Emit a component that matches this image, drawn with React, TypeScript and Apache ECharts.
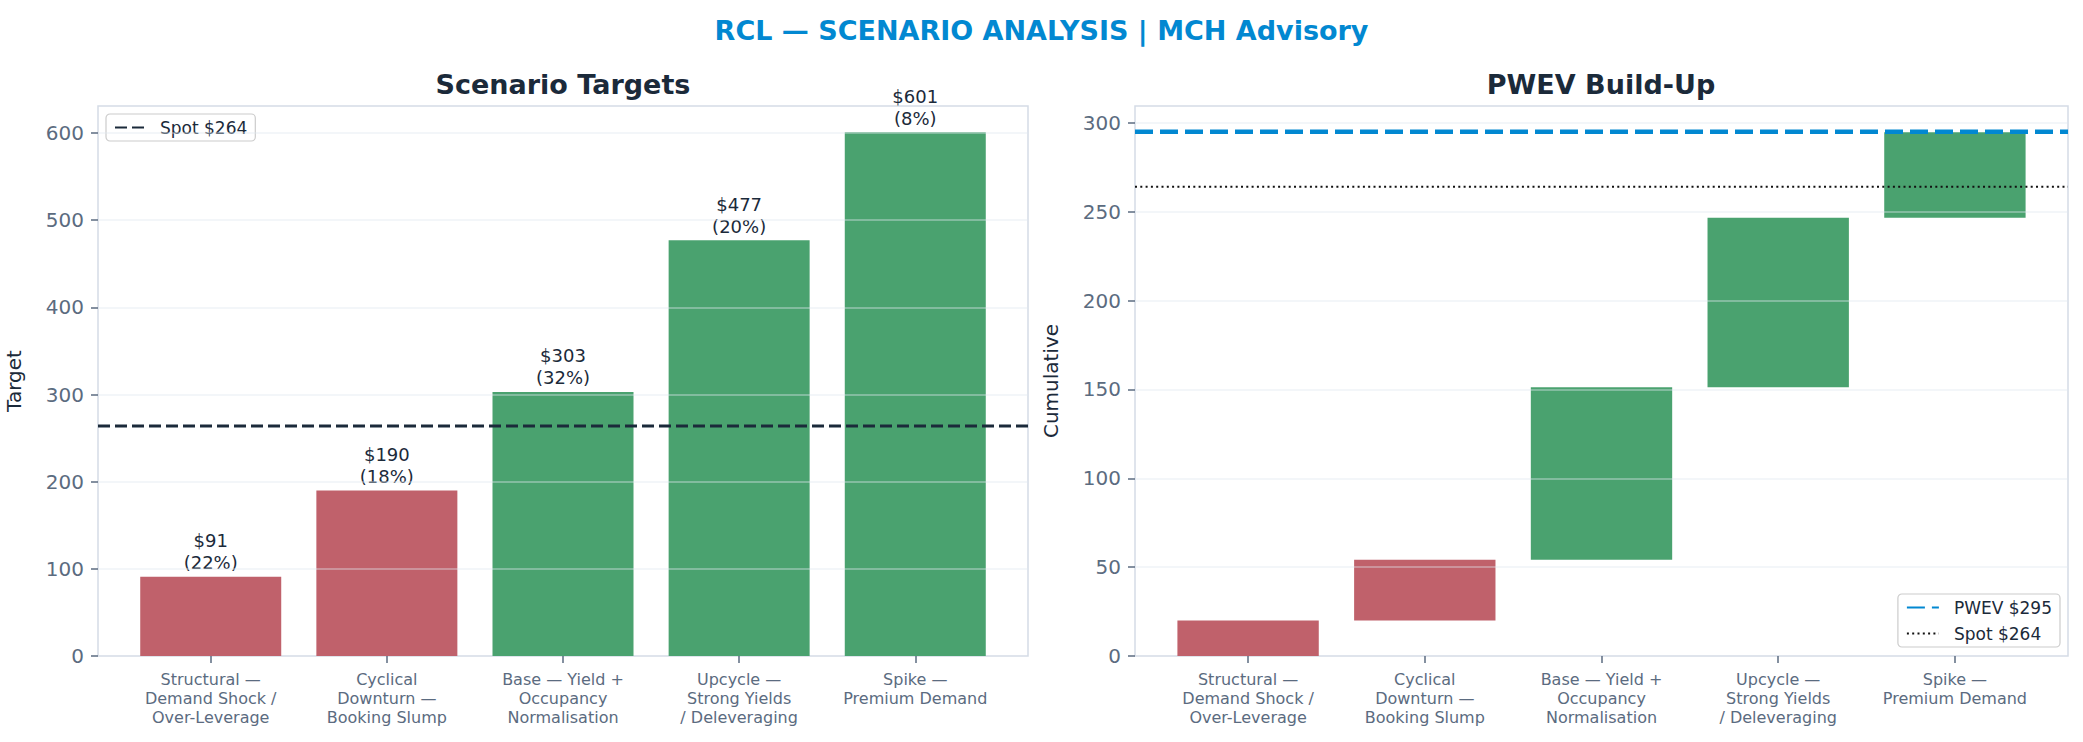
import React, { useEffect, useRef } from 'react';
import * as echarts from 'echarts';

const categories = [
  'Structural —\nDemand Shock /\nOver-Leverage',
  'Cyclical\nDownturn —\nBooking Slump',
  'Base — Yield +\nOccupancy\nNormalisation',
  'Upcycle —\nStrong Yields\n/ Deleveraging',
  'Spike —\nPremium Demand',
];
const targets = [91, 190, 303, 477, 601];
const probabilities = [22, 18, 32, 20, 8];
const spot = 264;
const pwev = 295;
const leftTicks = [0, 100, 200, 300, 400, 500, 600];
const rightTicks = [0, 50, 100, 150, 200, 250, 300];
const xPositions = [0, 1, 2, 3, 4];

const RED = '#c0616b';
const GREEN = '#4aa26f';
const BLUE = '#0288d1';
const DARK = '#1b2a3a';
const MUTED = '#5b6b80';
const FONT = 'DejaVu Sans';

// waterfall pieces: each scenario adds target × probability
const contributions = targets.map((t, i) => (t * probabilities[i]) / 100);
const starts = contributions.map((_, i) =>
  contributions.slice(0, i).reduce((a, b) => a + b, 0)
);

const X_MIN = -0.64;
const X_MAX = 4.64;
const BAR_HALF = 0.4;

export default function App() {
  const chartRef = useRef<HTMLDivElement>(null);

  useEffect(() => {
    if (!chartRef.current) return;
    const chart = echarts.init(chartRef.current, undefined, { renderer: 'svg' });

    const colorOf = (i: number) => (targets[i] < spot ? RED : GREEN);

    const tickStyle = { color: MUTED, width: 1.5 };

    const xAxisBase = (gridIndex: number) => ({
      type: 'value',
      gridIndex,
      min: X_MIN,
      max: X_MAX,
      axisLine: { show: false, onZero: false },
      splitLine: { show: false },
      axisTick: { show: true, customValues: xPositions, length: 7, lineStyle: tickStyle },
      axisLabel: {
        customValues: xPositions,
        formatter: (v: number) => categories[Math.round(v)] ?? '',
        color: MUTED,
        fontSize: 16,
        lineHeight: 19,
        margin: 14,
        fontFamily: FONT,
      },
    });

    const yAxisBase = (gridIndex: number, max: number, ticks: number[], name: string) => ({
      type: 'value',
      gridIndex,
      min: 0,
      max,
      name,
      nameLocation: 'middle',
      nameGap: 74,
      nameTextStyle: { fontSize: 20, color: DARK, fontFamily: FONT },
      axisLine: { show: false, onZero: false },
      splitLine: { show: false },
      axisTick: { show: true, customValues: ticks, length: 7, lineStyle: tickStyle },
      axisLabel: {
        customValues: ticks,
        color: MUTED,
        fontSize: 20,
        margin: 14,
        fontFamily: FONT,
      },
    });

    // gridlines drawn over the bars, as in the reference
    const gridOverlay = (ticks: number[]) => ({
      silent: true,
      symbol: ['none', 'none'],
      label: { show: false },
      lineStyle: { color: 'rgba(226,232,240,0.5)', width: 1.5, type: 'solid' },
      data: ticks.filter((v) => v > 0).map((v) => ({ yAxis: v })),
    });

    const legendBox = {
      itemWidth: 30,
      itemHeight: 14,
      padding: [5, 8],
      borderColor: '#cccccc',
      borderWidth: 1.2,
      borderRadius: 4,
      itemStyle: { opacity: 0 },
      textStyle: { fontSize: 17, color: DARK, fontFamily: FONT, padding: [0, 0, 0, 10] },
    };

    const option = {
      animation: false,
      backgroundColor: '#ffffff',
      textStyle: { fontFamily: FONT },
      title: {
        text: 'RCL — SCENARIO ANALYSIS | MCH Advisory',
        left: 'center',
        top: 12,
        textStyle: { fontSize: 27, fontWeight: 'bold', color: BLUE, fontFamily: FONT },
      },
      graphic: [
        {
          type: 'text',
          x: 563,
          y: 84,
          style: {
            text: 'Scenario Targets',
            textAlign: 'center',
            textVerticalAlign: 'middle',
            font: `bold 27px "${FONT}"`,
            fill: DARK,
          },
        },
        {
          type: 'text',
          x: 1601,
          y: 84,
          style: {
            text: 'PWEV Build-Up',
            textAlign: 'center',
            textVerticalAlign: 'middle',
            font: `bold 27px "${FONT}"`,
            fill: DARK,
          },
        },
      ],
      legend: [
        {
          ...legendBox,
          data: ['Spot $264'],
          left: 106,
          top: 114,
        },
        {
          ...legendBox,
          data: ['PWEV $295', 'Spot $264 '],
          orient: 'vertical',
          right: 23,
          bottom: 95,
          itemWidth: 32,
          itemGap: 9,
        },
      ],
      grid: [
        {
          left: 98,
          right: 1055,
          top: 106,
          bottom: 86,
          show: true,
          borderColor: '#d5dce6',
          borderWidth: 1.5,
          backgroundColor: 'transparent',
        },
        {
          left: 1135,
          right: 15,
          top: 106,
          bottom: 86,
          show: true,
          borderColor: '#d5dce6',
          borderWidth: 1.5,
          backgroundColor: 'transparent',
        },
      ],
      xAxis: [xAxisBase(0), xAxisBase(1)],
      yAxis: [
        yAxisBase(0, 631, leftTicks, 'Target'),
        yAxisBase(1, 309.5, rightTicks, 'Cumulative'),
      ],
      series: [
        {
          name: 'targets',
          type: 'bar',
          xAxisIndex: 0,
          yAxisIndex: 0,
          barWidth: 141,
          z: 2,
          data: targets.map((v, i) => ({
            value: [xPositions[i], v],
            itemStyle: { color: colorOf(i) },
          })),
          label: {
            show: true,
            position: 'top',
            distance: 3,
            color: DARK,
            fontSize: 18,
            lineHeight: 22,
            fontFamily: FONT,
            formatter: (p: any) => `$${targets[p.dataIndex]}\n(${probabilities[p.dataIndex]}%)`,
          },
          markLine: gridOverlay(leftTicks),
        },
        {
          name: 'Spot $264',
          type: 'line',
          xAxisIndex: 0,
          yAxisIndex: 0,
          symbol: 'none',
          z: 5,
          lineStyle: { color: DARK, width: 3, type: [12, 5] },
          itemStyle: { color: DARK },
          data: [
            [X_MIN, spot],
            [X_MAX, spot],
          ],
        },
        {
          name: 'contrib',
          type: 'custom',
          xAxisIndex: 1,
          yAxisIndex: 1,
          z: 2,
          encode: { x: 0, y: [1, 2] },
          data: contributions.map((c, i) => [xPositions[i], starts[i], starts[i] + c]),
          renderItem: (params: any, api: any) => {
            const x = api.value(0);
            const topLeft = api.coord([x - BAR_HALF, api.value(2)]);
            const bottomRight = api.coord([x + BAR_HALF, api.value(1)]);
            return {
              type: 'rect',
              shape: {
                x: topLeft[0],
                y: topLeft[1],
                width: bottomRight[0] - topLeft[0],
                height: bottomRight[1] - topLeft[1],
              },
              style: { fill: colorOf(params.dataIndex) },
            };
          },
        },
        {
          name: 'PWEV $295',
          type: 'line',
          xAxisIndex: 1,
          yAxisIndex: 1,
          symbol: 'none',
          z: 5,
          lineStyle: { color: BLUE, width: 4.5, type: [18, 7] },
          itemStyle: { color: BLUE },
          data: [
            [X_MIN, pwev],
            [X_MAX, pwev],
          ],
          markLine: gridOverlay(rightTicks),
        },
        {
          name: 'Spot $264 ',
          type: 'line',
          xAxisIndex: 1,
          yAxisIndex: 1,
          symbol: 'none',
          z: 5,
          lineStyle: { color: '#111111', width: 2, type: [2, 3.3] },
          itemStyle: { color: '#111111' },
          data: [
            [X_MIN, spot],
            [X_MAX, spot],
          ],
        },
      ],
    };

    chart.setOption(option as any);

    return () => {
      chart.dispose();
    };
  }, []);

  return (
    <div
      ref={chartRef}
      style={{ position: 'absolute', left: 0, top: 0, width: 2083, height: 742 }}
    />
  );
}
